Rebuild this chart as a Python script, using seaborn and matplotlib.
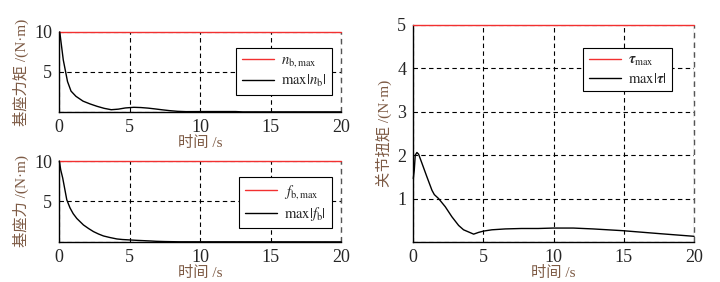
import pandas as pd
import seaborn as sns
import matplotlib.pyplot as plt

# base torque (top left)
t_nb = [0.05, 0.3, 0.6, 0.85, 1.2, 1.7, 2.2, 2.7, 3.2, 3.7, 4.2, 4.7, 5.3, 5.8,
        6.3, 6.8, 7.3, 7.8, 8.4, 9.0, 10.5, 12.5, 13.0, 20.0]
nb = [10.0, 6.5, 3.8, 2.6, 1.95, 1.35, 1.0, 0.7, 0.45, 0.28, 0.35, 0.5, 0.58, 0.55,
      0.48, 0.38, 0.27, 0.17, 0.08, 0.04, 0.05, 0.05, 0.01, 0.01]
nb_max = 10

# base force (bottom left)
t_fb = [0.02, 0.12, 0.26, 0.55, 0.78, 1.0, 1.26, 1.73, 2.1, 2.44, 2.8, 3.15, 3.6,
        4.1, 4.5, 5.0, 5.5, 6.0, 6.5, 6.9, 7.5, 8.5, 20.0]
fb = [10.0, 8.9, 7.9, 5.2, 4.2, 3.5, 2.9, 2.1, 1.65, 1.28, 0.98, 0.74, 0.55,
      0.37, 0.3, 0.25, 0.2, 0.16, 0.12, 0.08, 0.05, 0.02, 0.01]
fb_max = 10

# joint torque (right)
t_tau = [0, 0.07, 0.14, 0.26, 0.38, 0.62, 0.97, 1.33, 1.5, 1.8, 2.28, 2.75, 3.23,
         3.58, 3.94, 4.3, 4.65, 5.0, 5.6, 6.55, 7.7, 8.9, 9.96, 11.4, 12.8, 14.9,
         17.6, 20.0]
tau = [1.46, 1.65, 2.0, 2.06, 2.02, 1.81, 1.5, 1.19, 1.09, 1.0, 0.81, 0.58, 0.38,
       0.28, 0.23, 0.18, 0.22, 0.25, 0.28, 0.3, 0.31, 0.31, 0.32, 0.32, 0.30, 0.26,
       0.19, 0.13]
tau_max = 5

t_span = [0, 20]
xticks = [0, 5, 10, 15, 20]

sns.set_style('ticks')
plt.rcParams['font.family'] = ['Liberation Serif', 'Noto Sans CJK SC']
plt.rcParams['mathtext.fontset'] = 'stix'

label_color = '#7d5a44'
grid_dash = (0, (4, 3))


def make_df(t, y, ymax, lab_max, lab_abs):
    lim = pd.DataFrame({'t': t_span, 'v': [ymax, ymax], 's': lab_max})
    cur = pd.DataFrame({'t': t, 'v': y, 's': lab_abs})
    return pd.concat([lim, cur], ignore_index=True)


def draw(ax, df, lab_max, lab_abs, ylim, yticks, ylabel, leg_anchor):
    sns.lineplot(data=df, x='t', y='v', hue='s', ax=ax,
                 palette={lab_max: '#f23030', lab_abs: 'black'},
                 linewidth=1.0, sort=False, estimator=None)
    for ln in ax.lines:
        ln.set_clip_on(False)
        ln.set_zorder(3)
    ax.set_xlim(0, 20)
    ax.set_ylim(*ylim)
    ax.set_xticks(xticks)
    ax.set_yticks(yticks)
    ax.set_yticklabels(['' if v == 0 else str(v) for v in yticks])
    ax.grid(True, color='black', linestyle=grid_dash, linewidth=0.8)
    sns.despine(ax=ax)
    # right edge grid line, sits on the x limit so draw it unclipped
    ax.plot([20, 20], list(ylim), color='#555555', linestyle=grid_dash,
            linewidth=1.0, clip_on=False, zorder=2.5, scalex=False, scaley=False)
    for sp in ['left', 'bottom']:
        ax.spines[sp].set_color('black')
        ax.spines[sp].set_linewidth(1.0)
    ax.tick_params(direction='in', length=0, labelsize=13, pad=5)
    ax.set_xlabel('时间 /s', fontsize=11, color=label_color, labelpad=0)
    ax.set_ylabel(ylabel, fontsize=11, color=label_color, labelpad=4)
    leg = ax.legend(handles=ax.lines[:2], labels=[lab_max, lab_abs],
                    loc='upper right', bbox_to_anchor=leg_anchor, fontsize=10.5,
                    frameon=True, fancybox=False, handlelength=2.2,
                    borderpad=0.4, labelspacing=0.25, handletextpad=0.5,
                    borderaxespad=0)
    leg.get_frame().set_edgecolor('black')
    leg.get_frame().set_linewidth(0.8)
    leg.get_frame().set_alpha(1)
    leg.set_zorder(5)


fig = plt.figure(figsize=(7.2, 2.82), dpi=100)
ax1 = fig.add_axes([0.082, 0.603, 0.392, 0.284])
ax2 = fig.add_axes([0.082, 0.142, 0.392, 0.287])
ax3 = fig.add_axes([0.574, 0.142, 0.390, 0.770])

l1 = r'$n_{\mathrm{b,max}}$'
l2 = r'$\max|n_{\mathrm{b}}|$'
draw(ax1, make_df(t_nb, nb, nb_max, l1, l2), l1, l2, (0, 10), [0, 5, 10],
     '基座力矩 /(N·m)', (0.968, 0.80))

l3 = r'$f_{\mathrm{b,max}}$'
l4 = r'$\max|f_{\mathrm{b}}|$'
draw(ax2, make_df(t_fb, fb, fb_max, l3, l4), l3, l4, (0, 10), [0, 5, 10],
     '基座力 /(N·m)', (0.968, 0.80))

l5 = r'$\mathbfit{\tau}_{\mathrm{max}}$'
l6 = r'$\max|\mathbfit{\tau}|$'
draw(ax3, make_df(t_tau, tau, tau_max, l5, l6), l5, l6, (0, 5), [0, 1, 2, 3, 4, 5],
     '关节扭矩 /(N·m)', (0.922, 0.894))

fig.savefig('out.png', dpi=100)
